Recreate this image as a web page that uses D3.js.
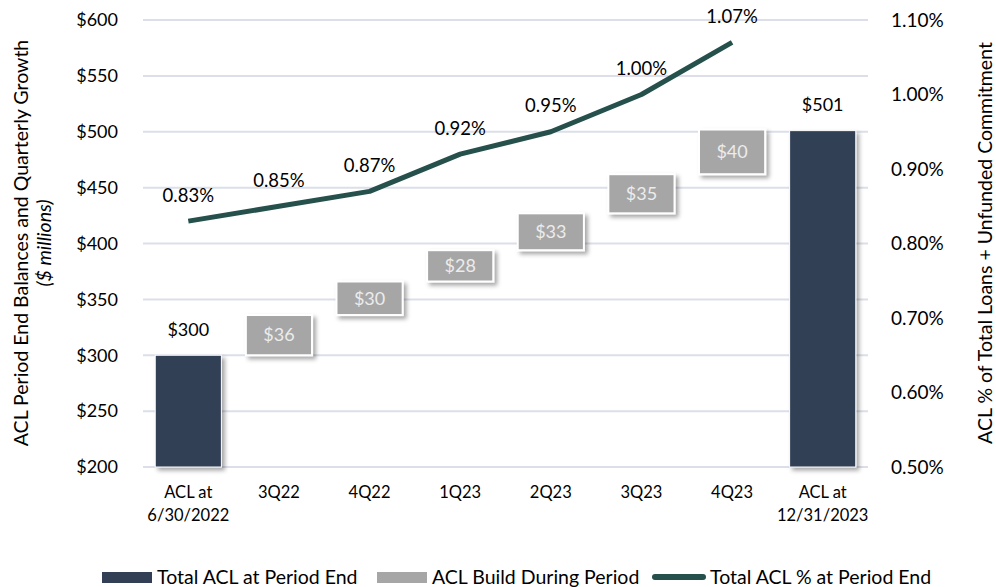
<!DOCTYPE html>
<html lang="en">
<head>
<meta charset="utf-8">
<title>ACL Build</title>
<script src="https://d3js.org/d3.v7.min.js"></script>
<style>
  body { margin: 0; background: #fff; }
  text { font-family: Lato, "Open Sans", sans-serif; fill: #000; }
</style>
</head>
<body>
<svg width="996" height="587"></svg>
<script>
// data
const categories = ["ACL at|6/30/2022", "3Q22", "4Q22", "1Q23", "2Q23", "3Q23", "4Q23", "ACL at|12/31/2023"];
const startTotal = 300;
const builds = [36, 30, 28, 33, 35, 40];
const endTotal = 501;
const pctCats = ["ACL at|6/30/2022", "3Q22", "4Q22", "1Q23", "2Q23", "3Q23", "4Q23"];
const pctValues = [0.83, 0.85, 0.87, 0.92, 0.95, 1.00, 1.07];
const leftTicks = [200, 250, 300, 350, 400, 450, 500, 550, 600];
const rightTicks = [0.5, 0.6, 0.7, 0.8, 0.9, 1.0, 1.1];

const svg = d3.select("svg");
const plotL = 143, plotR = 868, plotT = 20, plotB = 467;
const navy = "#333f55", grey = "#a6a6a6", teal = "#25504b";

const x = d3.scaleBand().domain(categories).range([plotL, plotR]).paddingInner(0.27).paddingOuter(0.135);
const y = d3.scaleLinear().domain([200, 600]).range([plotB, plotT]);
const y2 = d3.scaleLinear().domain([0.5, 1.1]).range([plotB, plotT]);

// shadow filter
const defs = svg.append("defs");
const f = defs.append("filter").attr("id", "shadow").attr("x", "-20%").attr("y", "-20%").attr("width", "150%").attr("height", "160%");
f.append("feDropShadow").attr("dx", 3).attr("dy", 3).attr("stdDeviation", 2).attr("flood-color", "#000").attr("flood-opacity", 0.35);

// gridlines
svg.append("g").selectAll("line").data(leftTicks).enter().append("line")
  .attr("x1", plotL).attr("x2", plotR)
  .attr("y1", d => y(d)).attr("y2", d => y(d))
  .style("stroke", "#dcdfea").style("stroke-width", 2);

// left axis
const yAxis = d3.axisLeft(y).tickValues(leftTicks).tickSize(0).tickPadding(0).tickFormat(d => "$" + d);
const gl = svg.append("g").attr("transform", `translate(118,0)`).call(yAxis);
gl.select(".domain").remove();
gl.selectAll("text").style("font-size", "18px");

// right axis
const y2Axis = d3.axisRight(y2).tickValues(rightTicks).tickSize(0).tickPadding(0).tickFormat(d => d.toFixed(2) + "%");
const gr = svg.append("g").attr("transform", `translate(891,0)`).call(y2Axis);
gr.select(".domain").remove();
gr.selectAll("text").style("font-size", "19px");
svg.selectAll(".tick text").attr("fill", "#000");
gl.attr("font-family", null);
gr.attr("font-family", null);

// axis titles
svg.append("text").attr("transform", "translate(28,243) rotate(-90)")
  .attr("text-anchor", "middle").style("font-size", "19.5px")
  .text("ACL Period End Balances and Quarterly Growth");
svg.append("text").attr("transform", "translate(51,243) rotate(-90)")
  .attr("text-anchor", "middle").style("font-size", "19.5px").style("font-style", "italic")
  .text("($ millions)");
svg.append("text").attr("transform", "translate(992,243) rotate(-90)")
  .attr("text-anchor", "middle").style("font-size", "19.5px")
  .text("ACL % of Total Loans + Unfunded Commitment");

// x labels
const xl = svg.append("g").selectAll("text").data(categories).enter().append("text")
  .attr("x", d => x(d) + x.bandwidth() / 2).attr("y", 498)
  .attr("text-anchor", "middle").style("font-size", "16.5px");
xl.each(function(d) {
  d.split("|").forEach((s, i) => {
    d3.select(this).append("tspan").attr("x", x(d) + x.bandwidth() / 2).attr("dy", i ? 23 : 0).text(s);
  });
});

// waterfall segments
let run = startTotal;
const segs = [{ cat: categories[0], lo: 200, hi: startTotal, v: startTotal, type: "total" }];
builds.forEach((b, i) => {
  segs.push({ cat: categories[i + 1], lo: run, hi: run + b, v: b, type: "build" });
  run += b;
});
segs.push({ cat: categories[7], lo: 200, hi: endTotal, v: endTotal, type: "total" });

svg.append("g").selectAll("rect").data(segs).enter().append("rect")
  .attr("x", d => x(d.cat)).attr("width", x.bandwidth())
  .attr("y", d => y(d.hi)).attr("height", d => y(d.lo) - y(d.hi))
  .style("fill", d => d.type === "total" ? navy : grey)
  .style("stroke", "#fff").style("stroke-width", d => d.type === "total" ? 1 : 2)
  .attr("filter", "url(#shadow)");

// bar labels
svg.append("g").selectAll("text").data(segs).enter().append("text")
  .attr("x", d => x(d.cat) + x.bandwidth() / 2)
  .attr("y", d => d.type === "total" ? y(d.hi) - 26 : (y(d.hi) + y(d.lo)) / 2)
  .attr("dy", "0.35em").attr("text-anchor", "middle")
  .style("font-size", "18px")
  .style("fill", d => d.type === "total" ? "#000" : "#ececec")
  .text(d => "$" + d.v);

// line
const line = d3.line().x((d, i) => x(pctCats[i]) + x.bandwidth() / 2).y(d => y2(d));
svg.append("path").datum(pctValues).attr("d", line)
  .style("fill", "none").style("stroke", teal).style("stroke-width", 5)
  .style("stroke-linejoin", "round");

svg.append("g").selectAll("text").data(pctValues).enter().append("text")
  .attr("x", (d, i) => x(pctCats[i]) + x.bandwidth() / 2)
  .attr("y", d => y2(d) - 26)
  .attr("dy", "0.35em").attr("text-anchor", "middle").style("font-size", "18.5px")
  .text(d => d.toFixed(2) + "%");

// legend
const lg = svg.append("g");
lg.append("rect").attr("x", 102).attr("y", 572).attr("width", 50).attr("height", 11).style("fill", navy);
lg.append("text").attr("x", 157).attr("y", 584).style("font-size", "19.5px").text("Total ACL at Period End");
lg.append("rect").attr("x", 377).attr("y", 572).attr("width", 50).attr("height", 11).style("fill", grey);
lg.append("text").attr("x", 432).attr("y", 584).style("font-size", "19.5px").text("ACL Build During Period");
lg.append("line").attr("x1", 655).attr("x2", 703).attr("y1", 577).attr("y2", 577)
  .style("stroke", teal).style("stroke-width", 6).style("stroke-linecap", "round");
lg.append("text").attr("x", 710).attr("y", 584).style("font-size", "19.5px").text("Total ACL % at Period End");
</script>
</body>
</html>
